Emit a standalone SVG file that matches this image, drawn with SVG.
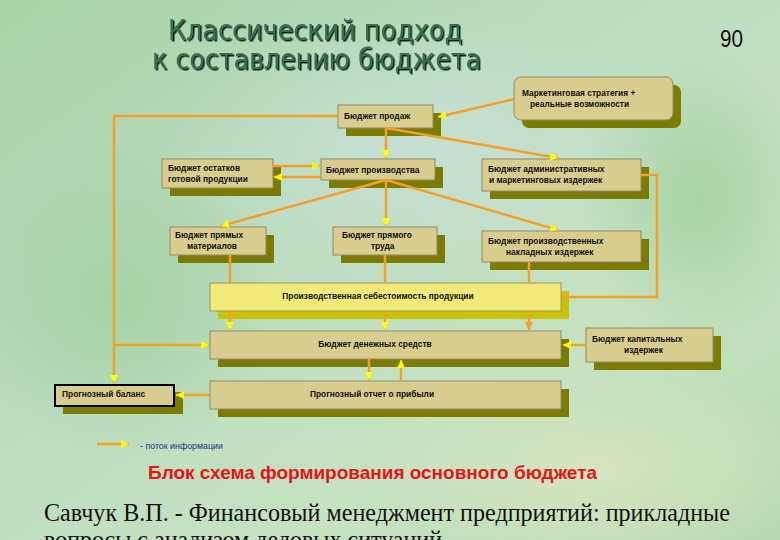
<svg xmlns="http://www.w3.org/2000/svg" width="780" height="540" viewBox="0 0 780 540">
<style>
.box{fill:#d9cc8f;stroke:#8f8a6a;stroke-width:1}
.ybox{fill:#f2ea78;stroke:#9a9460;stroke-width:1}
.sh{fill:#7d7a00}
.ysh{fill:#c9c400}
.t{font-family:"Liberation Sans",Arial,sans-serif;font-weight:bold;font-size:8.4px;fill:#111}
.c{fill:none;stroke:#f4a024;stroke-width:2.5}
.title{font-family:"Liberation Sans Narrow","DejaVu Sans Condensed","Liberation Sans",Arial,sans-serif;font-size:29px;fill:#3a6e50;filter:url(#ds)}
</style>
<defs>
<marker id="ay" markerUnits="userSpaceOnUse" markerWidth="9" markerHeight="9" refX="8" refY="4" orient="auto"><path d="M0,0 L8,4 L0,8 z" fill="#ffff00"/></marker>
<marker id="ao" markerUnits="userSpaceOnUse" markerWidth="9" markerHeight="9" refX="8" refY="4" orient="auto"><path d="M0,0 L8,4 L0,8 z" fill="#f4a024"/></marker>
<linearGradient id="bg" x1="0" y1="0" x2="1" y2="1">
<stop offset="0" stop-color="#a9d3a6"/>
<stop offset="0.4" stop-color="#bcdcc0"/>
<stop offset="0.7" stop-color="#c6e2c2"/>
<stop offset="1" stop-color="#b6dab0"/>
</linearGradient>
<radialGradient id="b1"><stop offset="0" stop-color="#c8e0d8" stop-opacity="0.8"/><stop offset="1" stop-color="#c8e0d8" stop-opacity="0"/></radialGradient>
<radialGradient id="b2"><stop offset="0" stop-color="#dce6c0" stop-opacity="0.8"/><stop offset="1" stop-color="#dce6c0" stop-opacity="0"/></radialGradient>
<radialGradient id="b3"><stop offset="0" stop-color="#9ccf98" stop-opacity="0.7"/><stop offset="1" stop-color="#9ccf98" stop-opacity="0"/></radialGradient>
<filter id="ds" x="-5%" y="-20%" width="110%" height="150%"><feDropShadow dx="1.5" dy="1.5" stdDeviation="0.3" flood-color="#102418"/></filter>
</defs>
<rect width="780" height="540" fill="url(#bg)"/>
<ellipse cx="420" cy="150" rx="260" ry="140" fill="url(#b1)"/>
<ellipse cx="600" cy="470" rx="220" ry="100" fill="url(#b2)"/>
<ellipse cx="120" cy="300" rx="160" ry="160" fill="url(#b3)"/>
<ellipse cx="700" cy="200" rx="120" ry="150" fill="url(#b3)"/>

<text class="title" x="168" y="40" textLength="294" lengthAdjust="spacingAndGlyphs">Классический подход</text>
<text class="title" x="152" y="69" textLength="329" lengthAdjust="spacingAndGlyphs">к составлению бюджета</text>
<text x="720" y="47" font-family="Liberation Sans Narrow,Liberation Sans,sans-serif" font-size="24" fill="#111" textLength="23" lengthAdjust="spacingAndGlyphs">90</text>

<g id="n-marketing"><rect class="sh" x="522" y="85" width="159" height="43" rx="7"/><rect class="box" x="514" y="77" width="159" height="43" rx="7"/><text class="t" x="522" y="96" font-size="8">Маркетинговая стратегия +</text><text class="t" x="530" y="107" font-size="8">реальные возможности</text></g>
<g id="n-sales"><rect class="sh" x="346" y="113" width="95" height="23"/><rect class="box" x="338" y="105" width="95" height="23"/><text class="t" x="344" y="119">Бюджет продаж</text></g>
<g id="n-stock"><rect class="sh" x="170" y="167" width="111" height="29"/><rect class="box" x="162" y="159" width="111" height="29"/><text class="t" x="168" y="171">Бюджет остатков</text><text class="t" x="168" y="182">готовой продукции</text></g>
<g id="n-prod"><rect class="sh" x="329" y="167" width="114" height="21"/><rect class="box" x="321" y="159" width="114" height="21"/><text class="t" x="326" y="173">Бюджет производства</text></g>
<g id="n-admin"><rect class="sh" x="490" y="167" width="159" height="32"/><rect class="box" x="482" y="159" width="159" height="32"/><text class="t" x="488" y="172">Бюджет административных</text><text class="t" x="489" y="183">и маркетинговых издержек</text></g>
<g id="n-mat"><rect class="sh" x="178" y="235" width="96" height="28"/><rect class="box" x="170" y="227" width="96" height="28"/><text class="t" x="175" y="238">Бюджет прямых</text><text class="t" x="187" y="249">материалов</text></g>
<g id="n-labor"><rect class="sh" x="341" y="235" width="104" height="28"/><rect class="box" x="333" y="227" width="104" height="28"/><text class="t" x="342" y="238">Бюджет прямого</text><text class="t" x="371" y="249">труда</text></g>
<g id="n-overhead"><rect class="sh" x="490" y="239" width="159" height="31"/><rect class="box" x="482" y="231" width="159" height="31"/><text class="t" x="488" y="244">Бюджет производственных</text><text class="t" x="506" y="255">накладных издержек</text></g>
<g id="n-cost"><rect class="ysh" x="218" y="291" width="351" height="28"/><rect class="ybox" x="210" y="283" width="351" height="28"/><text class="t" x="378" y="299" text-anchor="middle">Производственная себестоимость продукции</text></g>
<g id="n-cash"><rect class="sh" x="218" y="339" width="351" height="28"/><rect class="box" x="210" y="331" width="351" height="28"/><text class="t" x="375" y="347" text-anchor="middle">Бюджет денежных средств</text></g>
<g id="n-pnl"><rect class="sh" x="218" y="389" width="351" height="28"/><rect class="box" x="210" y="381" width="351" height="28"/><text class="t" x="372" y="397" text-anchor="middle">Прогнозный отчет о прибыли</text></g>
<g id="n-balance"><rect class="sh" x="63" y="392" width="120" height="22"/><rect x="55" y="385" width="119" height="21" fill="#d9cc8f" stroke="#000" stroke-width="2"/><text class="t" x="62" y="397">Прогнозный баланс</text></g>
<g id="n-capex"><rect class="sh" x="594" y="336" width="127" height="34"/><rect class="box" x="586" y="328" width="127" height="34"/><text class="t" x="592" y="342">Бюджет капитальных</text><text class="t" x="624" y="353">издержек</text></g>

<g id="connectors">
<path class="c" d="M514,99 L438,117" marker-end="url(#ay)"/>
<path class="c" d="M338,116 H114 V383" marker-end="url(#ay)"/>
<path class="c" d="M114,345 H209" marker-end="url(#ay)"/>
<path class="c" d="M386,128 V158" marker-end="url(#ay)"/>
<path class="c" d="M386,128 L558,158" marker-end="url(#ay)"/>
<path class="c" d="M273,166 H320" marker-end="url(#ay)"/>
<path class="c" d="M321,177 H274" marker-end="url(#ay)"/>
<path class="c" d="M386,180 L221,226" marker-end="url(#ay)"/>
<path class="c" d="M386,180 V226" marker-end="url(#ay)"/>
<path class="c" d="M386,180 L558,230" marker-end="url(#ay)"/>
<path class="c" d="M641,175 H657 V297 H562"/>
<path class="c" d="M230,255 V283"/>
<path class="c" d="M230,311 V330" marker-end="url(#ay)"/>
<path class="c" d="M385,255 V283"/>
<path class="c" d="M385,311 V330" marker-end="url(#ay)"/>
<path class="c" d="M529,262 V283"/>
<path class="c" d="M529,311 V330" marker-end="url(#ao)"/>
<path class="c" d="M586,345 H563" marker-end="url(#ay)"/>
<path class="c" d="M369,359 V380" marker-end="url(#ay)"/>
<path class="c" d="M401,381 V360" marker-end="url(#ay)"/>
<path class="c" d="M210,395 H176" marker-end="url(#ay)"/>
<path class="c" d="M97,444 H129" marker-end="url(#ay)"/>
</g>
<text x="140" y="449" font-family="Liberation Sans Narrow,Liberation Sans,sans-serif" font-size="8.5" fill="#1f3090" textLength="83" lengthAdjust="spacingAndGlyphs">- поток информации</text>
<text x="148" y="479" font-family="Liberation Sans Narrow,Liberation Sans,sans-serif" font-weight="bold" font-size="19" fill="#e81414" textLength="449" lengthAdjust="spacingAndGlyphs">Блок схема формирования основного бюджета</text>
<text x="44" y="521" font-family="Liberation Serif,Times New Roman,serif" font-size="25" fill="#111" textLength="686" lengthAdjust="spacingAndGlyphs">Савчук В.П. - Финансовый менеджмент предприятий: прикладные</text>
<text x="44" y="548" font-family="Liberation Serif,Times New Roman,serif" font-size="25" fill="#111" textLength="398" lengthAdjust="spacingAndGlyphs">вопросы с анализом деловых ситуаций</text>
</svg>
